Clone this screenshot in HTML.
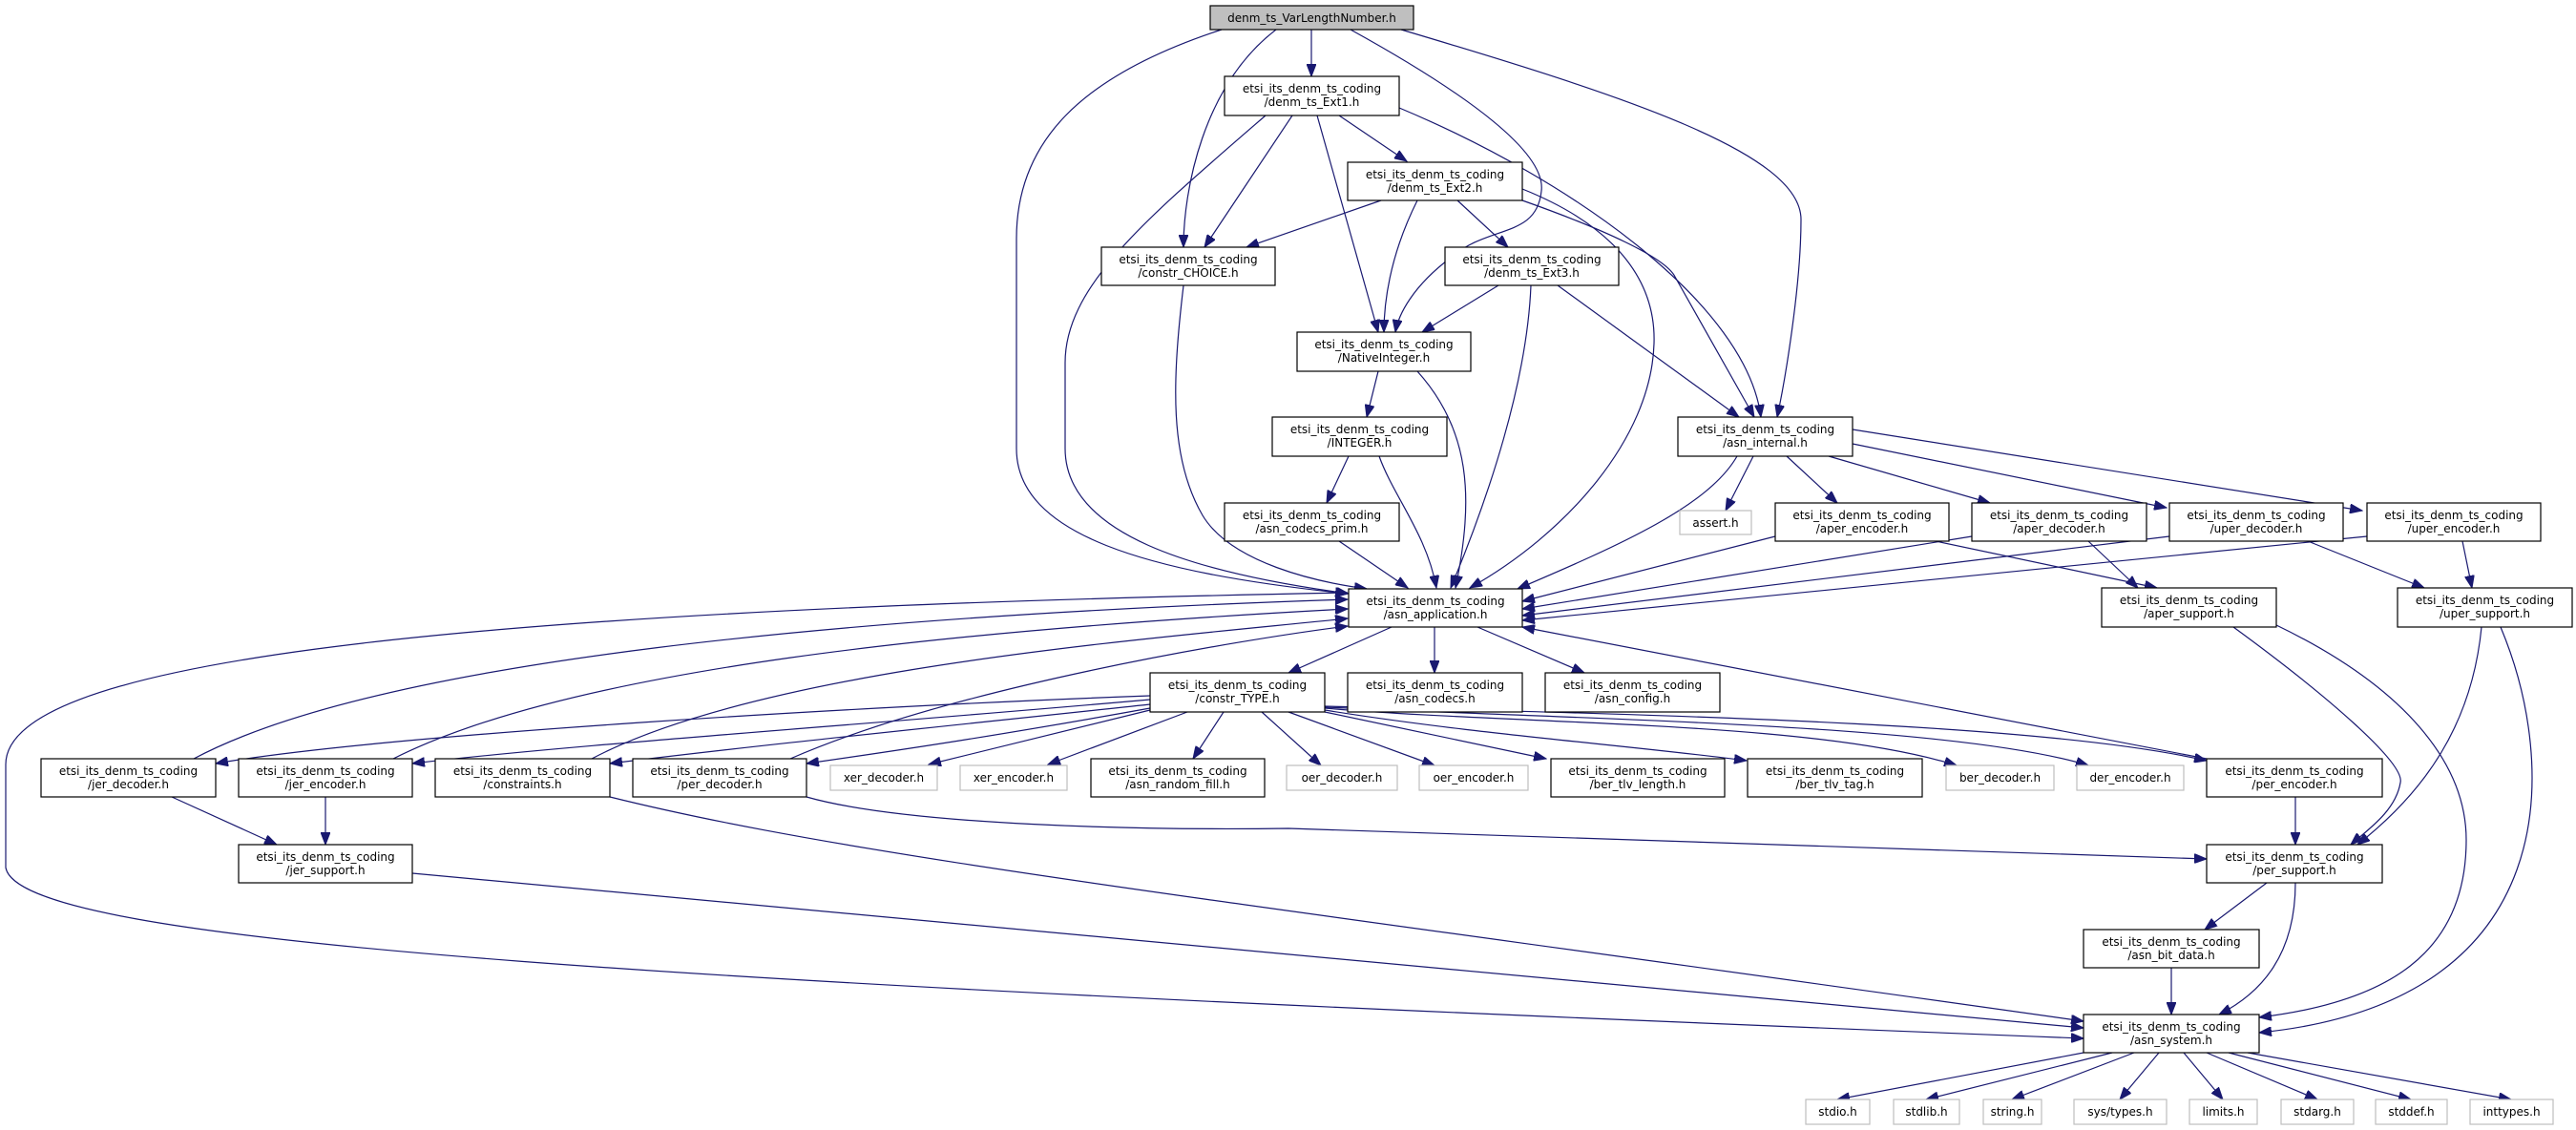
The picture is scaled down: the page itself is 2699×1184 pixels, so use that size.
<!DOCTYPE html>
<html><head><meta charset="utf-8"><style>
html,body{margin:0;padding:0;background:#fff;}
svg{display:block;}
text{font-family:"DejaVu Sans","Liberation Sans",sans-serif;font-size:12px;fill:#000;text-anchor:middle;}
.e{fill:none;stroke:#191970;stroke-width:1.2;}
.b{fill:#fff;stroke:#000;stroke-width:1.2;}
.g{fill:#fff;stroke:#bfbfbf;stroke-width:1.2;}
</style></head><body>
<svg width="2699" height="1184" viewBox="0 0 2699 1184" xmlns="http://www.w3.org/2000/svg">
<defs><marker id="a" markerUnits="userSpaceOnUse" markerWidth="14" markerHeight="10" refX="13" refY="5" orient="auto"><path d="M0,0 L13,5 L0,10 Z" fill="#191970" stroke="#191970"/></marker></defs>
<g marker-end="url(#a)">
<path class="e" d="M1374,31 L1374,80"/>
<path class="e" d="M1337,31 C1260,90 1240,200 1240,259"/>
<path class="e" d="M1280,31 C1130,80 1065,150 1065,250 L1065,470 C1065,560 1200,600 1412,622"/>
<path class="e" d="M1415,31 C1540,100 1620,160 1615,200 C1610,250 1560,235 1520,270 C1480,300 1465,330 1462,348"/>
<path class="e" d="M1468,31 C1700,100 1887,160 1887,230 C1887,300 1870,400 1862,437"/>
<path class="e" d="M1354,121 L1262,259"/>
<path class="e" d="M1326,121 C1200,230 1116,300 1116,380 L1116,470 C1116,560 1250,600 1413,622"/>
<path class="e" d="M1380,121 L1444,348"/>
<path class="e" d="M1403,121 L1474,169"/>
<path class="e" d="M1466,113 C1650,190 1830,320 1845,437"/>
<path class="e" d="M1447,210 L1306,259"/>
<path class="e" d="M1485,210 C1455,270 1450,320 1450,348"/>
<path class="e" d="M1527,210 L1580,259"/>
<path class="e" d="M1595,198 C1700,240 1735,300 1733,360 C1730,460 1640,560 1540,616"/>
<path class="e" d="M1595,210 C1680,240 1745,270 1755,290 L1838,437"/>
<path class="e" d="M1570,299 L1490,348"/>
<path class="e" d="M1604,299 C1600,400 1560,520 1520,616"/>
<path class="e" d="M1632,299 L1822,437"/>
<path class="e" d="M1240,299 C1228,400 1225,480 1260,540 C1290,590 1380,610 1432,617"/>
<path class="e" d="M1444,389 L1432,437"/>
<path class="e" d="M1485,389 C1540,450 1545,520 1525,616"/>
<path class="e" d="M1413,478 L1390,527"/>
<path class="e" d="M1445,478 C1460,520 1495,560 1505,616"/>
<path class="e" d="M1403,567 L1475,616"/>
<path class="e" d="M1820,478 C1790,530 1700,570 1590,617"/>
<path class="e" d="M1837,478 L1808,535"/>
<path class="e" d="M1872,478 L1925,527"/>
<path class="e" d="M1916,478 L2085,527"/>
<path class="e" d="M1941,465 L2270,532"/>
<path class="e" d="M1941,450 L2475,535"/>
<path class="e" d="M1860,562 L1595,630"/>
<path class="e" d="M2028,567 L2260,616"/>
<path class="e" d="M2066,562 L1595,638"/>
<path class="e" d="M2188,567 L2240,616"/>
<path class="e" d="M2273,562 L1595,645"/>
<path class="e" d="M2418,567 L2540,616"/>
<path class="e" d="M2480,562 L1595,650"/>
<path class="e" d="M2580,567 L2590,616"/>
<path class="e" d="M1458,657 L1350,705"/>
<path class="e" d="M1503,657 L1503,705"/>
<path class="e" d="M1548,657 L1660,705"/>
<path class="e" d="M203,795 C400,690 900,645 1412,628"/>
<path class="e" d="M412,795 C600,700 1000,660 1412,638"/>
<path class="e" d="M620,795 C800,700 1200,670 1412,648"/>
<path class="e" d="M828,795 C1000,720 1300,670 1412,656"/>
<path class="e" d="M2312,795 L1595,657"/>
<path class="e" d="M1412,621 C400,640 6,700 6,801 L6,909 C20,990 700,1030 2183,1088"/>
<path class="e" d="M1205,729 C900,740 400,770 226,800"/>
<path class="e" d="M1205,733 C900,760 600,780 432,800"/>
<path class="e" d="M1205,738 C1000,760 800,780 639,800"/>
<path class="e" d="M1205,742 C1050,770 950,785 845,800"/>
<path class="e" d="M1205,744 L973,801"/>
<path class="e" d="M1244,746 L1098,801"/>
<path class="e" d="M1282,746 L1250,795"/>
<path class="e" d="M1322,746 L1384,802"/>
<path class="e" d="M1350,746 L1503,802"/>
<path class="e" d="M1388,746 L1620,795"/>
<path class="e" d="M1388,744 C1550,770 1700,780 1830,797"/>
<path class="e" d="M1388,742 C1600,760 1900,755 2050,802"/>
<path class="e" d="M1388,741 C1700,755 2050,760 2188,802"/>
<path class="e" d="M1388,740 C1800,750 2150,760 2312,797"/>
<path class="e" d="M2405,835 L2405,885"/>
<path class="e" d="M845,835 C950,865 1200,870 1350,868 L2312,900"/>
<path class="e" d="M639,835 C900,900 1300,945 2183,1070"/>
<path class="e" d="M180,835 L290,885"/>
<path class="e" d="M341,835 L341,885"/>
<path class="e" d="M432,915 L2183,1077"/>
<path class="e" d="M2340,657 C2440,730 2520,800 2515,820 C2510,850 2480,870 2463,885"/>
<path class="e" d="M2385,655 C2520,720 2584,800 2584,880 C2584,1000 2500,1050 2367,1066"/>
<path class="e" d="M2600,657 C2590,760 2540,830 2470,885"/>
<path class="e" d="M2620,657 C2680,800 2690,1050 2367,1082"/>
<path class="e" d="M2375,925 L2310,974"/>
<path class="e" d="M2405,925 C2405,1000 2370,1040 2325,1063"/>
<path class="e" d="M2275,1014 L2275,1063"/>
<path class="e" d="M2183,1103 L1925,1152"/>
<path class="e" d="M2213,1103 L2018,1152"/>
<path class="e" d="M2236,1103 L2108,1152"/>
<path class="e" d="M2262,1103 L2221,1152"/>
<path class="e" d="M2288,1103 L2329,1152"/>
<path class="e" d="M2312,1103 L2428,1152"/>
<path class="e" d="M2335,1103 L2526,1152"/>
<path class="e" d="M2355,1103 L2631,1152"/>
</g>

<rect x="1268" y="6" width="213" height="25" fill="#bfbfbf" stroke="#000" stroke-width="1.2"/><text x="1374.5" y="23">denm_ts_VarLengthNumber.h</text>

<rect class="b" x="1283" y="80" width="183" height="41"/><text x="1374.5" y="97">etsi_its_denm_ts_coding</text><text x="1374.5" y="111">/denm_ts_Ext1.h</text>
<rect class="b" x="1412" y="170" width="183" height="40"/><text x="1503.5" y="187">etsi_its_denm_ts_coding</text><text x="1503.5" y="201">/denm_ts_Ext2.h</text>
<rect class="b" x="1154" y="259" width="182" height="40"/><text x="1245" y="276">etsi_its_denm_ts_coding</text><text x="1245" y="290">/constr_CHOICE.h</text>
<rect class="b" x="1514" y="259" width="182" height="40"/><text x="1605" y="276">etsi_its_denm_ts_coding</text><text x="1605" y="290">/denm_ts_Ext3.h</text>
<rect class="b" x="1359" y="348" width="182" height="41"/><text x="1450" y="365">etsi_its_denm_ts_coding</text><text x="1450" y="379">/NativeInteger.h</text>
<rect class="b" x="1333" y="437" width="183" height="41"/><text x="1424.5" y="454">etsi_its_denm_ts_coding</text><text x="1424.5" y="468">/INTEGER.h</text>
<rect class="b" x="1758" y="437" width="183" height="41"/><text x="1849.5" y="454">etsi_its_denm_ts_coding</text><text x="1849.5" y="468">/asn_internal.h</text>
<rect class="b" x="1283" y="527" width="183" height="40"/><text x="1374.5" y="544">etsi_its_denm_ts_coding</text><text x="1374.5" y="558">/asn_codecs_prim.h</text>
<rect class="g" x="1760" y="535" width="75" height="25"/><text x="1797.5" y="552">assert.h</text>
<rect class="b" x="1860" y="527" width="182" height="40"/><text x="1951" y="544">etsi_its_denm_ts_coding</text><text x="1951" y="558">/aper_encoder.h</text>
<rect class="b" x="2066" y="527" width="183" height="40"/><text x="2157.5" y="544">etsi_its_denm_ts_coding</text><text x="2157.5" y="558">/aper_decoder.h</text>
<rect class="b" x="2273" y="527" width="182" height="40"/><text x="2364" y="544">etsi_its_denm_ts_coding</text><text x="2364" y="558">/uper_decoder.h</text>
<rect class="b" x="2480" y="527" width="182" height="40"/><text x="2571" y="544">etsi_its_denm_ts_coding</text><text x="2571" y="558">/uper_encoder.h</text>

<rect class="b" x="1413" y="617" width="182" height="40"/><text x="1504" y="634">etsi_its_denm_ts_coding</text><text x="1504" y="648">/asn_application.h</text>
<rect class="b" x="2202" y="616" width="183" height="41"/><text x="2293.5" y="633">etsi_its_denm_ts_coding</text><text x="2293.5" y="647">/aper_support.h</text>
<rect class="b" x="2512" y="616" width="183" height="41"/><text x="2603.5" y="633">etsi_its_denm_ts_coding</text><text x="2603.5" y="647">/uper_support.h</text>

<rect class="b" x="1205" y="705" width="183" height="41"/><text x="1296.5" y="722">etsi_its_denm_ts_coding</text><text x="1296.5" y="736">/constr_TYPE.h</text>
<rect class="b" x="1412" y="705" width="183" height="41"/><text x="1503.5" y="722">etsi_its_denm_ts_coding</text><text x="1503.5" y="736">/asn_codecs.h</text>
<rect class="b" x="1619" y="705" width="183" height="41"/><text x="1710.5" y="722">etsi_its_denm_ts_coding</text><text x="1710.5" y="736">/asn_config.h</text>

<rect class="b" x="43" y="795" width="183" height="40"/><text x="134.5" y="812">etsi_its_denm_ts_coding</text><text x="134.5" y="826">/jer_decoder.h</text>
<rect class="b" x="250" y="795" width="182" height="40"/><text x="341" y="812">etsi_its_denm_ts_coding</text><text x="341" y="826">/jer_encoder.h</text>
<rect class="b" x="456" y="795" width="183" height="40"/><text x="547.5" y="812">etsi_its_denm_ts_coding</text><text x="547.5" y="826">/constraints.h</text>
<rect class="b" x="663" y="795" width="182" height="40"/><text x="754" y="812">etsi_its_denm_ts_coding</text><text x="754" y="826">/per_decoder.h</text>
<rect class="g" x="870" y="802" width="112" height="26"/><text x="926" y="819">xer_decoder.h</text>
<rect class="g" x="1006" y="802" width="112" height="26"/><text x="1062" y="819">xer_encoder.h</text>
<rect class="b" x="1143" y="795" width="182" height="40"/><text x="1234" y="812">etsi_its_denm_ts_coding</text><text x="1234" y="826">/asn_random_fill.h</text>
<rect class="g" x="1348" y="802" width="116" height="26"/><text x="1406" y="819">oer_decoder.h</text>
<rect class="g" x="1487" y="802" width="114" height="26"/><text x="1544" y="819">oer_encoder.h</text>
<rect class="b" x="1625" y="795" width="182" height="40"/><text x="1716" y="812">etsi_its_denm_ts_coding</text><text x="1716" y="826">/ber_tlv_length.h</text>
<rect class="b" x="1831" y="795" width="183" height="40"/><text x="1922.5" y="812">etsi_its_denm_ts_coding</text><text x="1922.5" y="826">/ber_tlv_tag.h</text>
<rect class="g" x="2039" y="802" width="113" height="26"/><text x="2095.5" y="819">ber_decoder.h</text>
<rect class="g" x="2176" y="802" width="112" height="26"/><text x="2232" y="819">der_encoder.h</text>
<rect class="b" x="2312" y="795" width="184" height="40"/><text x="2404" y="812">etsi_its_denm_ts_coding</text><text x="2404" y="826">/per_encoder.h</text>

<rect class="b" x="250" y="885" width="182" height="40"/><text x="341" y="902">etsi_its_denm_ts_coding</text><text x="341" y="916">/jer_support.h</text>
<rect class="b" x="2312" y="885" width="184" height="40"/><text x="2404" y="902">etsi_its_denm_ts_coding</text><text x="2404" y="916">/per_support.h</text>
<rect class="b" x="2183" y="974" width="184" height="40"/><text x="2275" y="991">etsi_its_denm_ts_coding</text><text x="2275" y="1005">/asn_bit_data.h</text>
<rect class="b" x="2183" y="1063" width="184" height="40"/><text x="2275" y="1080">etsi_its_denm_ts_coding</text><text x="2275" y="1094">/asn_system.h</text>

<rect class="g" x="1892" y="1152" width="67" height="26"/><text x="1925.5" y="1169">stdio.h</text>
<rect class="g" x="1984" y="1152" width="69" height="26"/><text x="2018.5" y="1169">stdlib.h</text>
<rect class="g" x="2078" y="1152" width="61" height="26"/><text x="2108.5" y="1169">string.h</text>
<rect class="g" x="2173" y="1152" width="97" height="26"/><text x="2221.5" y="1169">sys/types.h</text>
<rect class="g" x="2294" y="1152" width="71" height="26"/><text x="2329.5" y="1169">limits.h</text>
<rect class="g" x="2390" y="1152" width="76" height="26"/><text x="2428" y="1169">stdarg.h</text>
<rect class="g" x="2489" y="1152" width="75" height="26"/><text x="2526.5" y="1169">stddef.h</text>
<rect class="g" x="2588" y="1152" width="87" height="26"/><text x="2631.5" y="1169">inttypes.h</text>
</svg>
</body></html>
